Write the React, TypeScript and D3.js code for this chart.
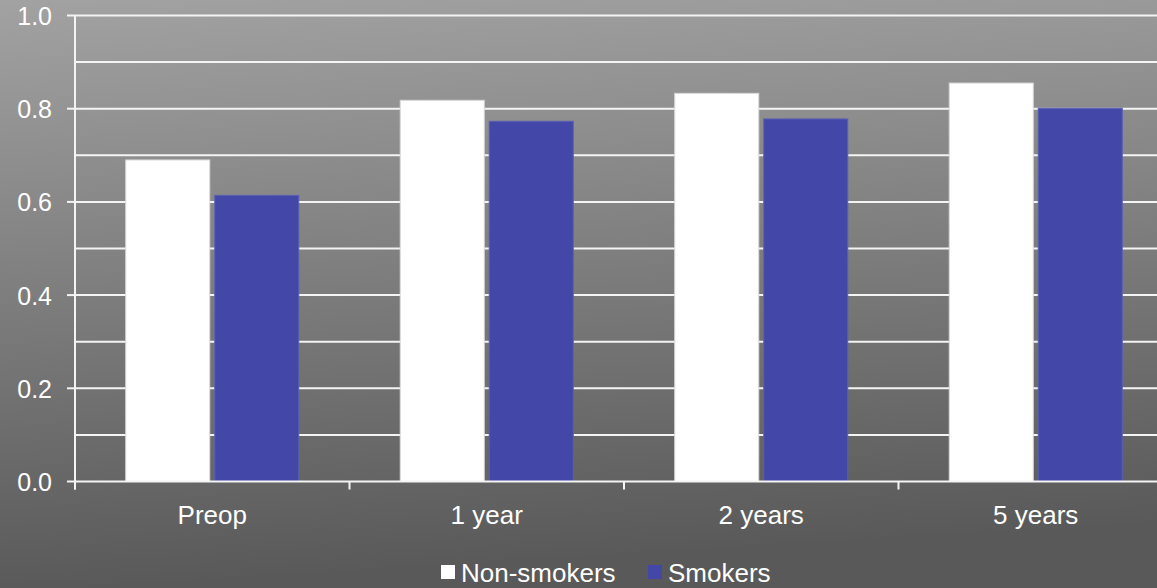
import React from "react";
import * as d3 from "d3";

// Chart data
const categories = ["Preop", "1 year", "2 years", "5 years"];
const seriesNames = ["Non-smokers", "Smokers"];
const nonSmokers = [0.69, 0.818, 0.833, 0.855];
const smokers = [0.614, 0.773, 0.778, 0.801];
const yTicks = [0, 0.2, 0.4, 0.6, 0.8, 1.0];
const gridValues = [0.1, 0.2, 0.3, 0.4, 0.5, 0.6, 0.7, 0.8, 0.9, 1.0];

const W = 1157;
const H = 588;
const FONT = "'Liberation Sans', Arial, sans-serif";
const colors = ["#ffffff", "#4348a8"];
const strokes = ["#d8d8d8", "#5a5fb3"];

export default function App() {
  const plotLeft = 75;
  const plotRight = 1173;
  const y = d3.scaleLinear().domain([0, 1]).range([481.5, 15.5]);
  const x = d3.scaleBand<string>().domain(categories).range([plotLeft, plotRight]).padding(0);
  const inner = d3
    .scaleBand<string>()
    .domain(seriesNames)
    .range([0, x.bandwidth()])
    .paddingInner(0.056)
    .paddingOuter(0.57);
  const series = [nonSmokers, smokers];
  const boundaries = d3.range(categories.length + 1).map((i) => plotLeft + i * x.bandwidth());

  return (
    <svg
      width={W}
      height={H}
      style={{ position: "absolute", left: 0, top: 0 }}
      fontFamily={FONT}
    >
      <defs>
        <linearGradient id="bg" x1="0" y1="0" x2="0.12" y2="1">
          <stop offset="0" stopColor="#a2a2a2" />
          <stop offset="1" stopColor="#595959" />
        </linearGradient>
      </defs>
      <rect x={0} y={0} width={W} height={H} fill="url(#bg)" />

      {/* gridlines */}
      {gridValues.map((v) => (
        <line
          key={v}
          x1={plotLeft}
          x2={W}
          y1={y(v)}
          y2={y(v)}
          stroke="#f4f4f4"
          strokeWidth={2}
        />
      ))}

      {/* bars */}
      {categories.map((c, i) => (
        <g key={c} transform={`translate(${x(c)},0)`}>
          {seriesNames.map((s, j) => (
            <rect
              key={s}
              x={inner(s)}
              y={y(series[j][i])}
              width={inner.bandwidth()}
              height={y(0) - y(series[j][i])}
              fill={colors[j]}
              stroke={strokes[j]}
              strokeWidth={1}
            />
          ))}
        </g>
      ))}

      {/* axes */}
      <line x1={plotLeft} x2={W} y1={y(0)} y2={y(0)} stroke="#f4f4f4" strokeWidth={2} />
      <line x1={plotLeft} x2={plotLeft} y1={y(1)} y2={y(0) + 8} stroke="#f4f4f4" strokeWidth={2} />
      {yTicks.map((v) => (
        <g key={v}>
          <line x1={plotLeft - 8} x2={plotLeft} y1={y(v)} y2={y(v)} stroke="#f4f4f4" strokeWidth={2} />
          <text
            x={52}
            y={y(v) + 9.5}
            textAnchor="end"
            fontSize={25}
            fill="#ffffff"
          >
            {v.toFixed(1)}
          </text>
        </g>
      ))}
      {boundaries.map((bx, i) => (
        <line key={i} x1={bx} x2={bx} y1={y(0)} y2={y(0) + 8} stroke="#f4f4f4" strokeWidth={2} />
      ))}
      {categories.map((c) => (
        <text
          key={c}
          x={(x(c) as number) + x.bandwidth() / 2}
          y={524}
          textAnchor="middle"
          fontSize={26}
          fill="#ffffff"
        >
          {c}
        </text>
      ))}

      {/* legend */}
      {seriesNames.map((s, j) => {
        const lx = j === 0 ? 441 : 648;
        return (
          <g key={s}>
            <rect x={lx} y={565} width={14} height={14} fill={colors[j]} />
            <text x={lx + 20} y={582} fontSize={26} fill="#ffffff">
              {s}
            </text>
          </g>
        );
      })}
    </svg>
  );
}
